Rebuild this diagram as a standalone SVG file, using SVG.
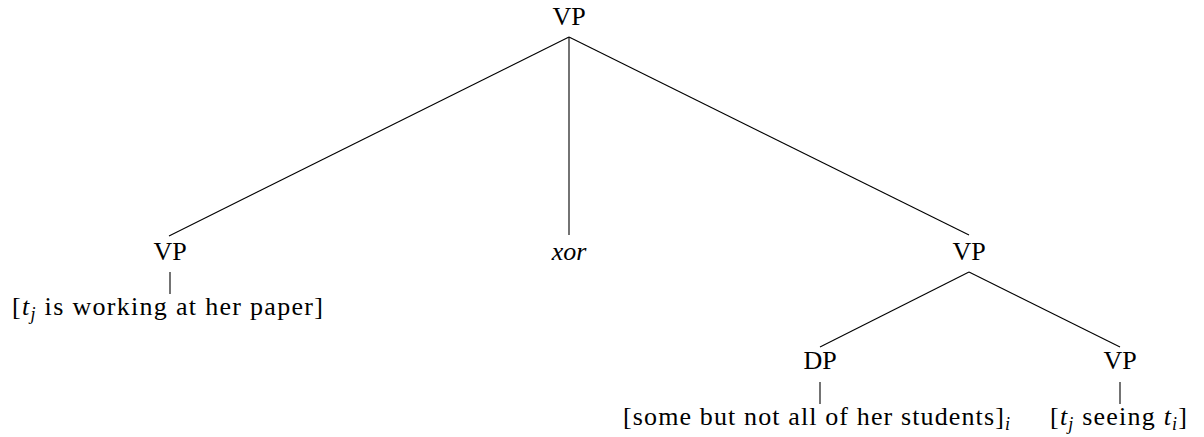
<svg xmlns="http://www.w3.org/2000/svg" width="1204" height="437" viewBox="0 0 1204 437">
<style>
.t{font-family:"Liberation Serif","Times New Roman",serif;font-size:26px;fill:#000}
.i{font-style:italic}
.s{font-size:18px}
.m{text-anchor:middle}
#edges line{stroke:#000;stroke-width:1.1}
</style>
<rect width="1204" height="437" fill="#fff"/>
<g id="edges">
<line x1="569" y1="37" x2="169" y2="236"/>
<line x1="569" y1="37" x2="569" y2="235"/>
<line x1="569" y1="37" x2="969" y2="235"/>
<line x1="170" y1="272" x2="170" y2="294"/>
<line x1="969" y1="272" x2="820" y2="347"/>
<line x1="969" y1="272" x2="1120" y2="347"/>
<line x1="820" y1="382" x2="820" y2="404"/>
<line x1="1120" y1="382" x2="1120" y2="404"/>
</g>
<g id="root"><text class="t m" x="569" y="25">VP</text></g>
<g id="vp-left"><text class="t m" x="170" y="260">VP</text></g>
<g id="xor"><text class="t m i" x="569" y="260">xor</text></g>
<g id="vp-right"><text class="t m" x="969" y="260">VP</text></g>
<g id="dp"><text class="t m" x="820" y="369">DP</text></g>
<g id="vp-lower"><text class="t m" x="1120" y="369">VP</text></g>
<g id="leaf-left"><text class="t" x="12" y="315" textLength="311" lengthAdjust="spacing">[<tspan class="i">t</tspan><tspan class="i s" dy="5">j</tspan><tspan dy="-5"> is working at her paper]</tspan></text></g>
<g id="leaf-dp"><text class="t" x="623" y="425" textLength="387" lengthAdjust="spacing">[some but not all of her students]<tspan class="i s" dy="5">i</tspan></text></g>
<g id="leaf-vp"><text class="t" x="1050" y="425" textLength="137" lengthAdjust="spacing">[<tspan class="i">t</tspan><tspan class="i s" dy="5">j</tspan><tspan dy="-5"> seeing </tspan><tspan class="i">t</tspan><tspan class="i s" dy="5">i</tspan><tspan dy="-5">]</tspan></text></g>
</svg>
